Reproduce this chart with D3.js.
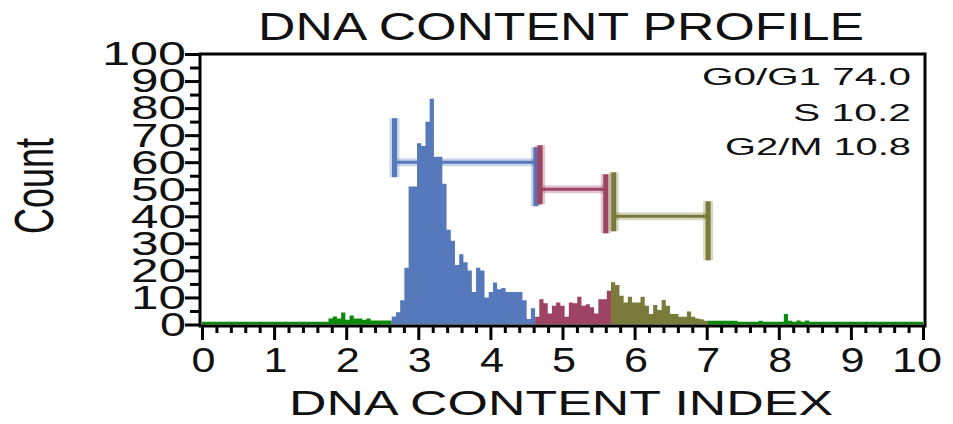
<!DOCTYPE html>
<html>
<head>
  <meta charset="utf-8">
  <title>DNA Content Profile</title>
  <script src="https://d3js.org/d3.v7.min.js"></script>
  <style>
    body { margin: 0; background: #fff; }
    text { font-family: "Liberation Sans", Arial, sans-serif; fill: #111; }
  </style>
</head>
<body>
  <script>

// histogram channels: 171 bins over 0..10
const binWidth = 10 / 171;

// counts per bin, each array starts at the given bin index
const debrisLeftStart = 0;
const debrisLeft = [
  1, 1, 1, 1, 1, 1, 1, 1, 1, 1, 1, 1, 1, 1, 1,
  1, 1, 1, 1, 1, 1, 1, 1, 1, 1, 1, 1, 1, 1, 1,
  2.2, 3.0, 2.2, 4.4, 1.8, 3.3, 2.2, 2.2, 1.8, 2.2, 1.5, 1.5, 1.5, 1.5, 1.5
];
const g0g1Start = 45;
const g0g1 = [
  3, 4.5, 9, 21, 51, 51, 67, 66, 75, 83.5, 62, 62, 52, 35, 31, 22, 26,
  23, 20, 12, 21, 20, 10, 12, 15.5, 13, 13.5, 12, 12, 12, 12, 9, 2, 6
];
const sPhaseStart = 79;
const sPhase = [2.9, 9.3, 7.9, 4.1, 6.9, 8.1, 6.9, 2.9, 8.1, 7.9, 10.3, 6.9, 7.5, 6.4, 4.1, 9.3, 9.3, 12.5];
const g2mStart = 97;
const g2m = [15.6, 14.6, 10.6, 8.1, 10.3, 8.1, 8.1, 10.3, 6.9, 3.9, 7.2, 5.4, 9.1, 6.9, 3.9, 3.9, 2.9, 2.9, 4.8, 2.9, 2.2, 1.9, 1.4];
const debrisRightStart = 120;
const debrisRight = [
  1.4, 1.4, 1.4, 1.4, 1.4, 1.4, 1.4, 1, 1, 1, 1, 1, 1.4, 1, 1, 1, 1,
  1, 3.9, 1.4, 1, 1.5, 1, 1.5, 1, 1, 1, 1, 1, 1, 1, 1, 1, 1,
  1, 1, 1, 1, 1, 1, 1, 1, 1, 1, 1, 1, 1, 1, 1, 1, 1
];

// gates (markers) and their percentages
const gateNames = ["G0/G1", "S", "G2/M"];
const gateFrom = [2.67, 4.69, 5.71];
const gateTo = [4.63, 5.60, 7.02];
const gateLevel = [60, 50, 40];
const gatePercent = [74.0, 10.2, 10.8];

const xTicks = [0, 1, 2, 3, 4, 5, 6, 7, 8, 9, 10];
const yTicks = [0, 10, 20, 30, 40, 50, 60, 70, 80, 90, 100];

const colors = { debris: "#0b8a0b", g0g1: "#5679bb", s: "#9d4364", g2m: "#7a7a3b" };
const gateColors = [colors.g0g1, colors.s, colors.g2m];

const svg = d3.select("body").append("svg")
  .attr("width", 953)
  .attr("height", 424);

const x = d3.scaleLinear().domain([0, 10]).range([202, 923]);
const y = d3.scaleLinear().domain([0, 100]).range([324.5, 54]);

// step area for a run of bins
const area = d3.area()
  .curve(d3.curveStepAfter)
  .x(d => x(d.x))
  .y0(y(0))
  .y1(d => y(d.v));

function drawSeries(start, counts, color) {
  const pts = counts.map((v, i) => ({ x: (start + i) * binWidth, v: v }));
  pts.push({ x: (start + counts.length) * binWidth, v: counts[counts.length - 1] });
  svg.append("path")
    .attr("d", area(pts))
    .attr("fill", color);
}

drawSeries(debrisLeftStart, debrisLeft, colors.debris);
drawSeries(g0g1Start, g0g1, colors.g0g1);
drawSeries(sPhaseStart, sPhase, colors.s);
drawSeries(g2mStart, g2m, colors.g2m);
drawSeries(debrisRightStart, debrisRight, colors.debris);

// gate markers
gateNames.forEach((name, i) => {
  const g = svg.append("g");
  const c = gateColors[i];
  const ly = y(gateLevel[i]);
  const x0 = x(gateFrom[i]), x1 = x(gateTo[i]);
  // soft halo first, then the solid line
  [[8, 0.3], [3, 1]].forEach(([w, op]) => {
    g.append("line")
      .attr("x1", x0).attr("x2", x1).attr("y1", ly).attr("y2", ly)
      .attr("stroke", c).attr("stroke-width", w).attr("stroke-opacity", op);
  });
  [[10, 0.3], [5, 1]].forEach(([w, op]) => {
    g.append("line")
      .attr("x1", x0).attr("x2", x0).attr("y1", ly - 44).attr("y2", ly + 15)
      .attr("stroke", c).attr("stroke-width", w).attr("stroke-opacity", op);
    g.append("line")
      .attr("x1", x1).attr("x2", x1).attr("y1", ly - 15).attr("y2", ly + 44)
      .attr("stroke", c).attr("stroke-width", w).attr("stroke-opacity", op);
  });
});

// frame
svg.append("rect")
  .attr("x", 200).attr("y", 54)
  .attr("width", 725).attr("height", 272)
  .attr("fill", "none")
  .attr("stroke", "#000")
  .attr("stroke-width", 3);

// y axis
const yMinor = d3.range(5, 100, 10);
svg.append("g")
  .attr("transform", "translate(200,0)")
  .call(d3.axisLeft(y).tickValues(yMinor).tickSize(10).tickFormat(""))
  .call(g => g.select(".domain").remove())
  .call(g => g.selectAll("line").attr("stroke", "#000").attr("stroke-width", 3));

const yAxis = svg.append("g")
  .attr("transform", "translate(200,0)")
  .call(d3.axisLeft(y).tickValues(yTicks).tickSize(15).tickPadding(0))
  .call(g => g.select(".domain").remove())
  .call(g => g.selectAll("line").attr("stroke", "#000").attr("stroke-width", 3));
yAxis.selectAll("text")
  .attr("font-size", 34)
  .attr("font-family", null)
  .attr("fill", "#111")
  .attr("x", -14)
  .attr("textLength", d => String(d).length * 29 - 3)
  .attr("lengthAdjust", "spacingAndGlyphs");

// x axis
const xMinor = d3.range(1, 50).map(k => k * 0.2).filter(v => Math.abs(v - Math.round(v)) > 1e-6);
svg.append("g")
  .attr("transform", "translate(0,326)")
  .call(d3.axisBottom(x).tickValues(xMinor).tickSize(7).tickFormat(""))
  .call(g => g.select(".domain").remove())
  .call(g => g.selectAll("line").attr("stroke", "#000").attr("stroke-width", 3));

const xAxis = svg.append("g")
  .attr("transform", "translate(0,326)")
  .call(d3.axisBottom(x).tickValues(xTicks).tickSize(14).tickPadding(7))
  .call(g => g.select(".domain").remove())
  .call(g => g.selectAll("line").attr("stroke", "#000").attr("stroke-width", 3));
xAxis.selectAll("text")
  .attr("font-size", 35)
  .attr("font-family", null)
  .attr("fill", "#111")
  .attr("x", d => d === 10 ? -6.5 : 1)
  .attr("textLength", d => d === 10 ? 50 : 24)
  .attr("lengthAdjust", "spacingAndGlyphs");

// titles
svg.append("text")
  .attr("x", 561).attr("y", 40)
  .attr("text-anchor", "middle")
  .attr("font-size", 39)
  .attr("textLength", 606)
  .attr("lengthAdjust", "spacingAndGlyphs")
  .text("DNA CONTENT PROFILE");

svg.append("text")
  .attr("x", 289).attr("y", 415)
  .attr("font-size", 35)
  .attr("textLength", 544)
  .attr("lengthAdjust", "spacingAndGlyphs")
  .text("DNA CONTENT INDEX");

svg.append("text")
  .attr("transform", "translate(53,186) rotate(-90)")
  .attr("text-anchor", "middle")
  .attr("font-size", 56)
  .attr("textLength", 96)
  .attr("lengthAdjust", "spacingAndGlyphs")
  .text("Count");

// gate statistics, top right
const statWidths = [209, 118, 186];
const statBase = [85, 121, 155];
gateNames.forEach((name, i) => {
  svg.append("text")
    .attr("x", 911).attr("y", statBase[i])
    .attr("text-anchor", "end")
    .attr("font-size", 24)
    .attr("textLength", statWidths[i])
    .attr("lengthAdjust", "spacingAndGlyphs")
    .text(name + " " + gatePercent[i].toFixed(1));
});

  </script>
</body>
</html>
